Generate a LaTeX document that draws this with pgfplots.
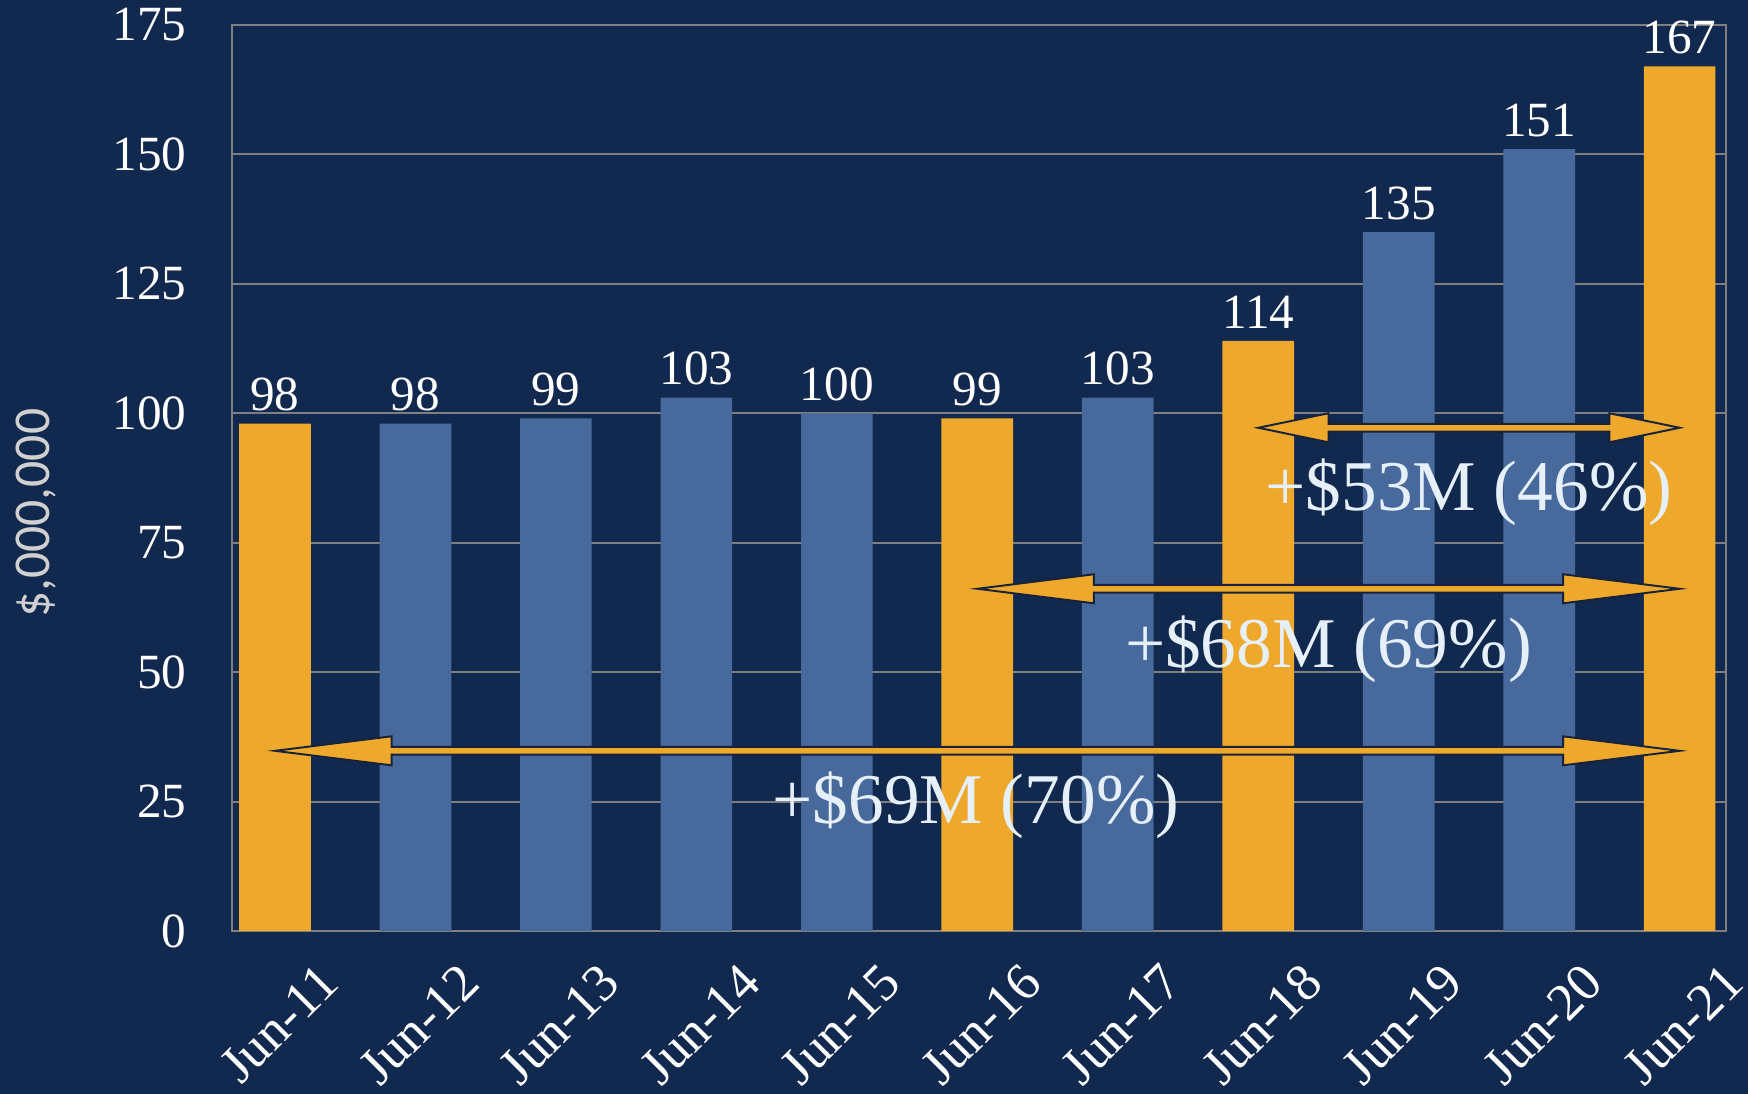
\documentclass[border=0pt]{standalone}
\usepackage{fontspec}
\setmainfont{Liberation Serif}
\newfontfamily\labelfont{Carlito}
\usepackage{pgfplots}
\pgfplotsset{compat=1.18}
\definecolor{bgnavy}{HTML}{11284F}
\definecolor{barorange}{HTML}{EEA82B}
\definecolor{barblue}{HTML}{48699C}
\definecolor{gridgray}{HTML}{7F7F7F}
\definecolor{edgenavy}{HTML}{17233B}
\definecolor{annot}{HTML}{E6F0FA}
\definecolor{ylab}{HTML}{D0D0D0}

% double-headed block arrow in axis units: x from, x to, y, head length
\newcommand{\dblarrow}[4]{%
  \draw[edgenavy, line width=0.55pt, fill=barorange, line join=miter]
    (axis cs:#1,#3) -- (axis cs:#1+#4,#3+2.8) -- (axis cs:#1+#4,#3+0.75)
    -- (axis cs:#2-#4,#3+0.75) -- (axis cs:#2-#4,#3+2.8) -- (axis cs:#2,#3)
    -- (axis cs:#2-#4,#3-2.8) -- (axis cs:#2-#4,#3-0.75)
    -- (axis cs:#1+#4,#3-0.75) -- (axis cs:#1+#4,#3-2.8) -- cycle;}

\begin{document}
\begin{tikzpicture}
\path[use as bounding box, fill=bgnavy] (0,0) rectangle (174.8mm,109.4mm);
\begin{axis}[
    at={(23.2mm,16.3mm)}, anchor=south west,
    scale only axis,
    width=149.4mm, height=90.6mm,
    ybar, bar width=0.51,
    xmin=-0.306, xmax=10.33,
    ymin=0, ymax=175,
    ytick={0,25,...,175},
    xtick={0,...,10},
    xticklabels={Jun-11,Jun-12,Jun-13,Jun-14,Jun-15,Jun-16,Jun-17,Jun-18,Jun-19,Jun-20,Jun-21},
    major tick length=0pt,
    axis line style={gridgray, line width=0.55pt},
    ymajorgrids,
    grid style={gridgray, line width=0.55pt},
    /pgf/number format/assume math mode=true,
    tick label style={text=white, font=\fontsize{14}{16}\selectfont},
    yticklabel style={xshift=-3.3mm},
    xticklabel style={xshift=6.3mm, yshift=-3.4mm, rotate=45, anchor=east,
        font=\fontsize{15}{17}\selectfont},
    ylabel={\$,000,000},
    every axis y label/.style={at={(axis description cs:-0.131,0.461)}, rotate=90, anchor=center,
        font=\labelfont\fontsize{14.7}{17}\selectfont, text=ylab},
    nodes near coords,
    every node near coord/.append style={text=white, font=\fontsize{14}{16}\selectfont},
]
\addplot[fill=barorange, draw=none, bar shift=0pt]
  coordinates {(0,98) (5,99) (7,114) (10,167)};
\addplot[fill=barblue, draw=none, bar shift=0pt]
  coordinates {(1,98) (2,99) (3,103) (4,100) (6,103) (8,135) (9,151)};

\dblarrow{0}{10}{34.8}{0.83}
\dblarrow{5}{10}{66.1}{0.83}
\dblarrow{7}{10}{97.2}{0.5}

\node[text=annot, font=\fontsize{20.3}{24}\selectfont] at (axis cs:4.99,24.3) {+\$69M (70\%)};
\node[text=annot, font=\fontsize{20.3}{24}\selectfont] at (axis cs:7.50,54.4) {+\$68M (69\%)};
\node[text=annot, font=\fontsize{20.3}{24}\selectfont] at (axis cs:8.50,84.7) {+\$53M (46\%)};
\end{axis}
\end{tikzpicture}
\end{document}
